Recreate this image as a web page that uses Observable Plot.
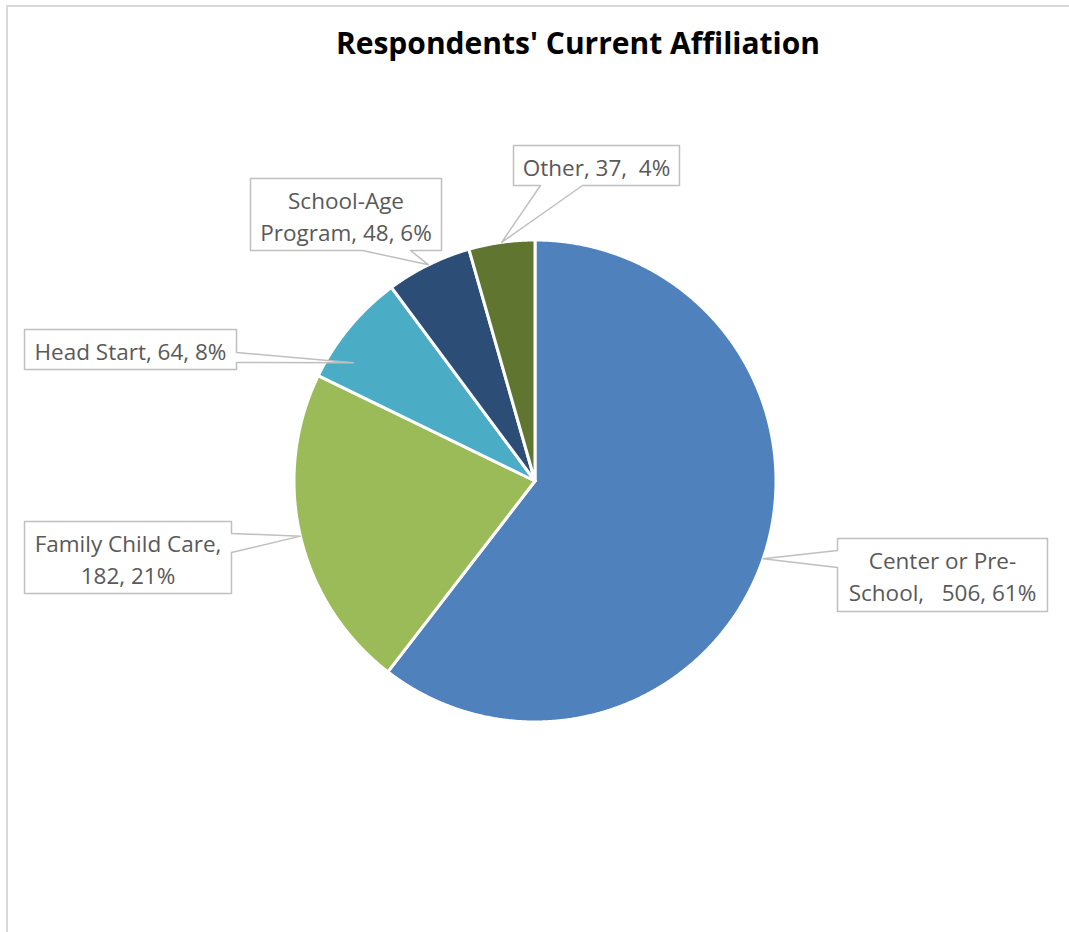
<!DOCTYPE html>
<html><head><meta charset="utf-8">
<script src="https://cdn.jsdelivr.net/npm/d3@7"></script>
<script src="https://cdn.jsdelivr.net/npm/@observablehq/plot@0.6"></script>
<style>
body{margin:0;background:#fff;}
#wrap{position:relative;width:1069px;height:932px;overflow:hidden;font-family:"Open Sans","Noto Sans",sans-serif;}
#frame{position:absolute;left:6px;top:5px;width:1200px;height:1200px;border-top:2px solid #d9d9d9;border-left:2px solid #d9d9d9;}
#title{position:absolute;left:78px;top:22px;width:1000px;text-align:center;font-size:30px;font-weight:700;color:#000;}
#chart{position:absolute;left:0;top:80px;}
#chart svg text{white-space:pre;}
</style></head>
<body><div id="wrap"><div id="frame"></div><div id="title">Respondents' Current Affiliation</div><div id="chart"></div></div>
<script>
// ---- data ----
const categories = ["Center or Pre-School", "Family Child Care", "Head Start", "School-Age Program", "Other"];
const counts = [506, 182, 64, 48, 37];
const labelTexts = ["Center or Pre-\nSchool,   506, 61%", "Family Child Care,\n182, 21%", "Head Start, 64, 8%", "School-Age\nProgram, 48, 6%", "Other, 37,  4%"];
const colors = ["#4F81BD", "#9BBB59", "#4BACC6", "#2C4D75", "#5F7530"];

// ---- layout (pixels, svg coordinates) ----
const W = 1069, H = 852, cx = 534.5, cy = 400.5, R = 241;
const top0 = 80;
const boxes = [
  {x0: 837, x1: 1047, y0: 538, y1: 611, side: "left", b0: 550, b1: 567},
  {x0: 24, x1: 231, y0: 521, y1: 593, side: "right", b0: 533, b1: 552},
  {x0: 24, x1: 236, y0: 329, y1: 369, side: "right", b0: 352, b1: 362, tipT: 0.26, tipR: 0.9},
  {x0: 250, x1: 441, y0: 178, y1: 250, side: "bottom", b0: 362, b1: 410},
  {x0: 513, x1: 679, y0: 145, y1: 185, side: "bottom", b0: 540, b1: 582}
];

const arcs = d3.pie().sort(null).value(d => d)(counts);
const px = (a, r) => cx + r * Math.sin(a);
const py = (a, r) => cy - r * Math.cos(a);

// slice polygons
const slicePts = [];
arcs.forEach((a, i) => {
  const cat = categories[i];
  slicePts.push({cat, x: cx, y: cy});
  const n = Math.max(2, Math.ceil((a.endAngle - a.startAngle) / 0.005));
  for (let k = 0; k <= n; k++) {
    const t = a.startAngle + (a.endAngle - a.startAngle) * k / n;
    slicePts.push({cat, x: px(t, R), y: py(t, R)});
  }
});

// callouts
const calloutPts = [];
const labels = [];
arcs.forEach((a, i) => {
  const b = boxes[i];
  const x0 = b.x0, x1 = b.x1, y0 = b.y0 - top0, y1 = b.y1 - top0;
  const t = a.startAngle + (a.endAngle - a.startAngle) * (b.tipT ?? 0.5);
  const tr = R * (b.tipR ?? 1);
  const tip = [px(t, tr), py(t, tr)];
  let pts;
  if (b.side === "left") {
    const b0 = b.b0 - top0, b1 = b.b1 - top0;
    pts = [[x0, y0], [x1, y0], [x1, y1], [x0, y1], [x0, b1], tip, [x0, b0]];
  } else if (b.side === "right") {
    const b0 = b.b0 - top0, b1 = b.b1 - top0;
    pts = [[x0, y0], [x1, y0], [x1, b0], tip, [x1, b1], [x1, y1], [x0, y1]];
  } else {
    pts = [[x0, y0], [x1, y0], [x1, y1], [b.b1, y1], tip, [b.b0, y1], [x0, y1]];
  }
  pts.forEach(p => calloutPts.push({cat: categories[i], x: p[0], y: p[1]}));
  labels.push({text: labelTexts[i], x: (x0 + x1) / 2, y: (y0 + y1) / 2});
});

const chart = Plot.plot({
  width: W, height: H,
  margin: 0,
  x: {domain: [0, W], range: [0, W], axis: null},
  y: {domain: [0, H], range: [0, H], axis: null},
  color: {domain: categories, range: colors},
  marks: [
    Plot.line(slicePts, {x: "x", y: "y", z: "cat", fill: "cat", stroke: "white", strokeWidth: 3, strokeLinejoin: "round", curve: "linear-closed"}),
    Plot.line(calloutPts, {x: "x", y: "y", z: "cat", fill: "white", stroke: "#bfbfbf", strokeWidth: 1.5, curve: "linear-closed"}),
    Plot.text(labels, {x: "x", y: "y", text: "text", fontSize: 22.5, lineHeight: 1.42, fill: "#595959", fontFamily: "Open Sans"})
  ]
});
document.getElementById("chart").appendChild(chart);
</script>
</body></html>
